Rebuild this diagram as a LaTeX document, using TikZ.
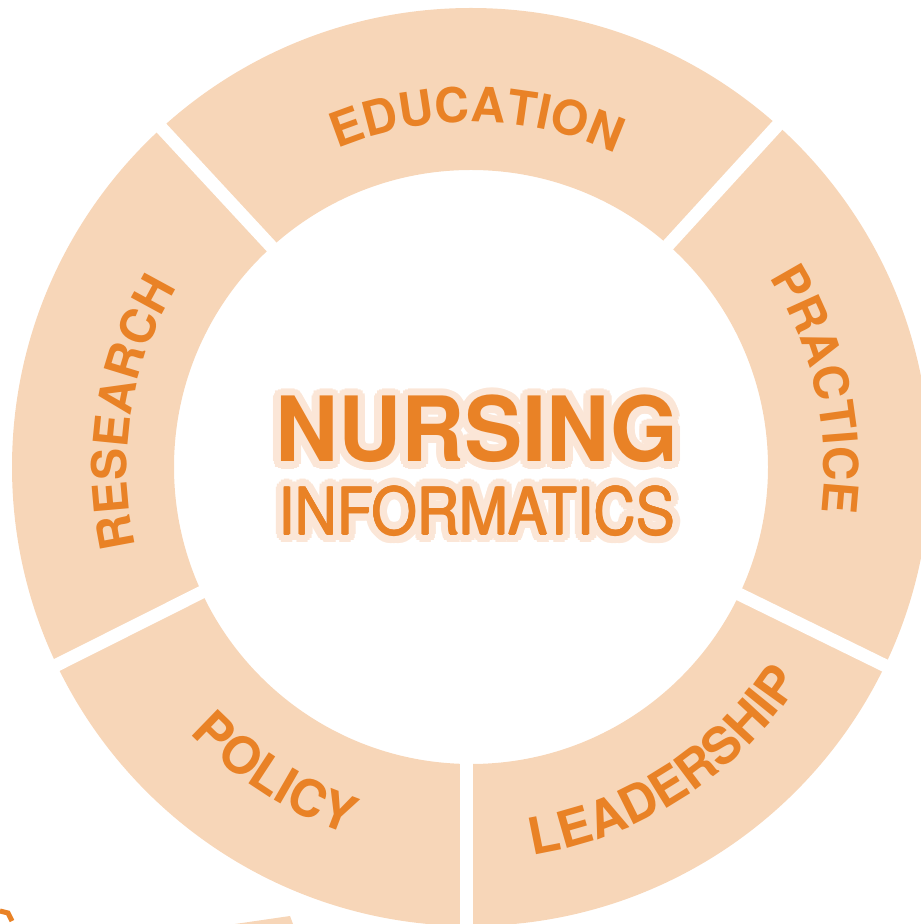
\documentclass[tikz,border=0pt]{standalone}
\usepackage{fontspec}
\setmainfont{TeX Gyre Heros}
\usetikzlibrary{decorations.text,calc}
\definecolor{peach}{RGB}{247,214,184}
\definecolor{ringtext}{RGB}{233,130,38}
\definecolor{halo}{RGB}{251,230,215}
\newcommand\ringfont{\bfseries\fontsize{48}{48}\selectfont}
\newcommand\ringfontb{\bfseries\fontsize{51}{51}\selectfont}
\tikzset{
  ringlabel/.style={decorate, decoration={text along path, text={|\ringfont|#1}, text align=center, text color=ringtext}},
  ringlabelb/.style={decorate, decoration={text along path, text={|\ringfontb|#1}, text align=center, text color=ringtext}},
  gapline/.style={white, line width=13pt},
  bigword/.style={inner sep=0pt, anchor=base, font=\bfseries\fontsize{90}{90}\selectfont, xscale=0.97},
  smallword/.style={inner sep=0pt, anchor=base, font=\fontsize{65}{65}\selectfont, xscale=0.9}
}
\begin{document}
\begin{tikzpicture}[x=1pt,y=1pt]
\useasboundingbox (0,0) rectangle (921,924);
\clip (0,0) rectangle (921,924);
\coordinate (C) at (471,457);
% ring
\fill[peach, even odd rule] (C) circle (459) (C) circle (297);
% gaps (white bands between the five segments)
\coordinate (g1a) at (141,818); \coordinate (g1b) at (280,668);
\coordinate (g2a) at (830,856); \coordinate (g2b) at (660,670);
\coordinate (g3a) at (945,229); \coordinate (g3b) at (700,349);
\coordinate (g4a) at (466.5,-10); \coordinate (g4b) at (466.5,190);
\coordinate (g5a) at (-5,228); \coordinate (g5b) at (240,351);
\draw[gapline] (g1a) -- (g1b);
\draw[gapline] (g2a) -- (g2b);
\draw[gapline] (g3a) -- (g3b);
\draw[gapline] (g4a) -- (g4b);
\draw[gapline] (g5a) -- (g5b);
% ring labels (top: clockwise, tops outward)
\path[ringlabel=EDUCATION] (C) ++(131:345) arc[start angle=131, end angle=47, radius=345];
\path[ringlabel=RESEARCH] (C) ++(208:344) arc[start angle=208, end angle=134, radius=344];
\path[ringlabel=PRACTICE] (C) ++(49:353) arc[start angle=49, end angle=-24, radius=353];
% bottom: counter-clockwise, tops inward
\path[ringlabelb=LEADERSHIP] (C) ++(271:393) arc[start angle=271, end angle=335, radius=393];
\path[ringlabelb=POLICY] (C) ++(205.5:387) arc[start angle=205.5, end angle=269.5, radius=387];
% centre text with halo
\coordinate (nb) at (477,462);
\coordinate (ib) at (477,389);
\foreach \a in {0,22.5,...,340} {
  \node[bigword, text=halo] (hn\a) at ($(nb)+(\a:7.5)$) {NURSING};
  \node[smallword, text=halo] (hi\a) at ($(ib)+(\a:8)$) {INFORMATICS};
}
\foreach \a in {0,90,180,270} {
  \node[smallword, text=ringtext] (ti\a) at ($(ib)+(\a:0.8)$) {INFORMATICS};
}
\node[bigword, text=ringtext] (nursing) at (nb) {NURSING};
\node[smallword, text=ringtext] (informatics) at (ib) {INFORMATICS};
% cut-off fragments at the bottom edge
\fill[peach] (235,0) -- (290,8) -- (293,0) -- cycle;
\draw[ringtext, line width=5pt] (0,13) -- (8,11) -- (12,3);
\end{tikzpicture}
\end{document}
